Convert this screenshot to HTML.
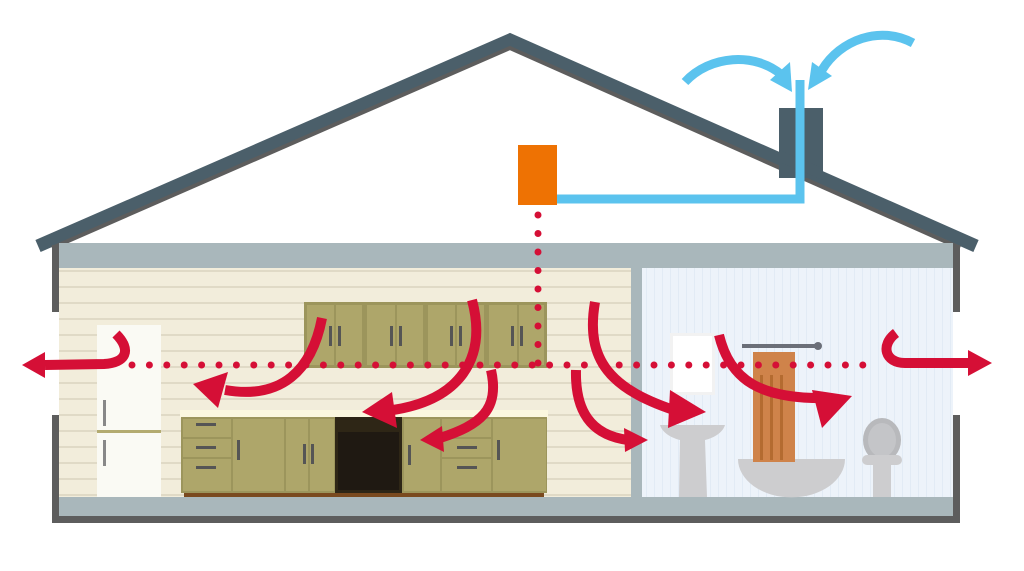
<!DOCTYPE html>
<html><head><style>body{margin:0;background:#fff}svg{display:block}</style></head><body>
<svg width="1024" height="571" viewBox="0 0 1024 571" xmlns="http://www.w3.org/2000/svg">
<defs>
<pattern id="st" width="10" height="16" patternUnits="userSpaceOnUse"><rect width="10" height="16" fill="#f2eddb"/><rect y="14" width="10" height="2" fill="#e0dac6"/></pattern>
<pattern id="bs" width="8" height="10" patternUnits="userSpaceOnUse"><rect width="8" height="10" fill="#edf3fa"/><rect x="6" width="1" height="10" fill="#e2ebf5"/></pattern>
</defs>
<!-- roof -->
<polyline points="38,246 510,40 976,246" fill="none" stroke="#4b5f6a" stroke-width="13"/>
<polyline points="52,248 510,48 960,248" fill="none" stroke="#5d5d5d" stroke-width="4"/>
<rect x="779" y="108" width="44" height="70" fill="#4b5f6a"/>
<polygon points="779,150 823,168 823,180 779,162" fill="#4b5f6a"/>
<!-- duct -->
<polyline points="800,80 800,199 557,199" fill="none" stroke="#5bc3ee" stroke-width="9"/>
<rect x="518" y="145" width="39" height="60" fill="#ee7203"/>
<!-- walls -->
<rect x="52" y="245" width="7" height="67" fill="#5d5d5d"/>
<rect x="52" y="415" width="7" height="108" fill="#5d5d5d"/>
<rect x="953" y="245" width="7" height="67" fill="#5d5d5d"/>
<rect x="953" y="415" width="7" height="108" fill="#5d5d5d"/>
<rect x="52" y="516" width="908" height="7" fill="#5d5d5d"/>
<rect x="59" y="243" width="894" height="25" fill="#a9b7bb"/>
<rect x="59" y="497" width="894" height="19" fill="#a9b7bb"/>
<rect x="59" y="268" width="572" height="229" fill="url(#st)"/>
<rect x="631" y="268" width="11" height="229" fill="#a9b7bb"/>
<rect x="642" y="268" width="311" height="229" fill="url(#bs)"/>
<rect x="52" y="312" width="7" height="103" fill="#fff"/>
<rect x="953" y="312" width="7" height="103" fill="#fff"/>
<!-- fridge -->
<rect x="97" y="325" width="64" height="172" fill="#fafaf4"/>
<rect x="97" y="430" width="64" height="3" fill="#b3ab70"/>
<rect x="103" y="400" width="3" height="26" fill="#888"/><rect x="103" y="440" width="3" height="26" fill="#888"/>
<!-- upper cabinets -->
<rect x="304" y="302" width="243" height="66" fill="#9c955c"/>
<g fill="#aea66a">
<rect x="307" y="305" width="27" height="60"/><rect x="336" y="305" width="26" height="60"/>
<rect x="367" y="305" width="28" height="60"/><rect x="397" y="305" width="26" height="60"/>
<rect x="428" y="305" width="27" height="60"/><rect x="457" y="305" width="27" height="60"/>
<rect x="489" y="305" width="28" height="60"/><rect x="519" y="305" width="25" height="60"/>
</g>
<g fill="#555">
<rect x="329" y="326" width="3" height="20"/><rect x="338" y="326" width="3" height="20"/>
<rect x="390" y="326" width="3" height="20"/><rect x="399" y="326" width="3" height="20"/>
<rect x="450" y="326" width="3" height="20"/><rect x="459" y="326" width="3" height="20"/>
<rect x="511" y="326" width="3" height="20"/><rect x="520" y="326" width="3" height="20"/>
</g>
<!-- lower cabinets -->
<rect x="180" y="410" width="368" height="8" fill="#fbf7df"/>
<rect x="184" y="492" width="360" height="5" fill="#7a4a1f"/>
<rect x="181" y="417" width="366" height="76" fill="#9c955c"/>
<g fill="#aea66a">
<rect x="183" y="419" width="48" height="18"/><rect x="183" y="439" width="48" height="18"/><rect x="183" y="459" width="48" height="32"/>
<rect x="233" y="419" width="51" height="72"/><rect x="286" y="419" width="22" height="72"/><rect x="310" y="419" width="24" height="72"/>
<rect x="404" y="419" width="36" height="72"/><rect x="442" y="419" width="49" height="18"/><rect x="442" y="439" width="49" height="18"/><rect x="442" y="459" width="49" height="32"/>
<rect x="493" y="419" width="53" height="72"/>
</g>
<rect x="335" y="417" width="67" height="76" fill="#2e2616"/>
<rect x="338" y="432" width="61" height="58" fill="#1f1912"/>
<g fill="#555">
<rect x="196" y="423" width="20" height="3"/><rect x="196" y="446" width="20" height="3"/><rect x="196" y="466" width="20" height="3"/>
<rect x="237" y="440" width="3" height="20"/><rect x="303" y="444" width="3" height="20"/><rect x="311" y="444" width="3" height="20"/>
<rect x="408" y="445" width="3" height="20"/><rect x="457" y="446" width="20" height="3"/><rect x="457" y="466" width="20" height="3"/><rect x="497" y="440" width="3" height="20"/>
</g>
<!-- bathroom -->
<rect x="670" y="333" width="45" height="62" fill="#f2f2f2"/><rect x="673" y="336" width="39" height="56" fill="#fff"/>
<rect x="742" y="344" width="75" height="4" fill="#6b6f78"/><circle cx="818" cy="346" r="4" fill="#6b6f78"/>
<path d="M660,425 h65 a33,20 0 0 1 -65,0z" fill="#cdcdcf"/>
<polygon points="680,440 705,440 707,497 679,497" fill="#cdcdcf"/>
<path d="M738,459 h107 a53,38 0 0 1 -107,0z" fill="#cdcdcf"/>
<rect x="753" y="352" width="42" height="110" fill="#cf834a"/>
<g fill="#b46b30"><rect x="760" y="375" width="3" height="85"/><rect x="770" y="375" width="3" height="85"/><rect x="780" y="375" width="3" height="85"/></g>
<ellipse cx="882" cy="440" rx="19" ry="22" fill="#b8b9bc"/>
<ellipse cx="882" cy="440" rx="14" ry="17" fill="#c4c5c8"/>
<rect x="862" y="455" width="40" height="10" rx="5" fill="#cdcdcf"/>
<rect x="873" y="464" width="18" height="33" fill="#cdcdcf"/>
<!-- dots -->
<line x1="132" y1="365" x2="875" y2="365" stroke="#d50f36" stroke-width="7" stroke-linecap="round" stroke-dasharray="0 17.4"/>
<line x1="538" y1="215" x2="538" y2="365" stroke="#d50f36" stroke-width="7" stroke-linecap="round" stroke-dasharray="0 18.5"/>
<!-- red arrows -->
<g fill="none" stroke="#d50f36" stroke-width="10">
<path d="M116,334 C132,350 126,363 104,364 L45,365"/>
<path d="M322,318 C312,370 282,400 225,390"/>
<path d="M472,300 C488,360 458,400 393,410"/>
<path d="M491,370 C500,410 480,425 440,438"/>
<path d="M595,302 C585,360 610,390 680,412"/>
<path d="M576,370 C575,410 590,435 628,440"/>
<path d="M719,335 C730,380 760,400 830,398"/>
<path d="M896,333 C880,345 885,363 905,363 L968,363"/>
</g>
<g fill="#d50f36">
<polygon points="22,365 45,352 45,378"/>
<polygon points="193,384 228,372 218,408"/>
<polygon points="362,412 392,392 397,428"/>
<polygon points="420,440 442,426 444,452"/>
<polygon points="706,412 670,390 668,428"/>
<polygon points="648,440 624,428 625,452"/>
<polygon points="852,396 812,390 822,428"/>
<polygon points="992,363 968,350 968,376"/>
</g>
<!-- blue arrows -->
<g fill="none" stroke="#5bc3ee" stroke-width="9">
<path d="M685,82 C710,55 755,52 782,75"/>
<path d="M913,43 C880,25 840,40 822,70"/>
</g>
<g fill="#5bc3ee">
<polygon points="792,92 770,80 790,62"/>
<polygon points="808,90 812,62 832,76"/>
</g>
</svg>
</body></html>
